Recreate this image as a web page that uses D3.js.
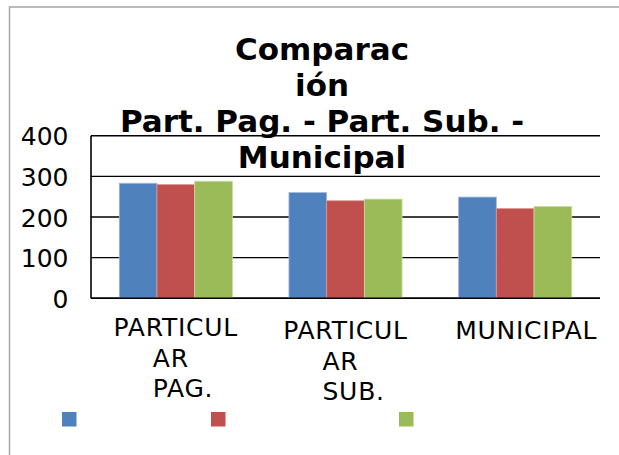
<!DOCTYPE html>
<html>
<head>
<meta charset="utf-8">
<title>Comparación</title>
<style>
  body { margin: 0; background: #fff; }
  text { font-family: "DejaVu Sans", sans-serif; fill: #000; }
  .grid line { stroke: #000; stroke-width: 1.4; }
</style>
</head>
<body>
<script src="https://d3js.org/d3.v7.min.js"></script>
<script>
  // data
  var categories = [["PARTICUL", "AR", "PAG."], ["PARTICUL", "AR", "SUB."], ["MUNICIPAL"]];
  var seriesNames = ["", "", ""];
  var serie1 = [283, 260, 249];
  var serie2 = [280, 240, 221];
  var serie3 = [288, 244, 226];
  var yTicks = [0, 100, 200, 300, 400];
  var titleLines = ["Comparac", "ión", "Part. Pag. - Part. Sub. -", "Municipal"];

  var colors = ["#4F81BD", "#C0504D", "#9BBB59"];
  var edges = ["#9fb8d9", "#dc9a98", "#c8dba6"];
  var legendX = [62, 211, 399];

  var W = 619, H = 455;
  var plot = { left: 91, right: 600, top: 135.7, bottom: 298.3 };

  var svg = d3.select("body").append("svg")
    .attr("width", W)
    .attr("height", H);

  // outer chart frame (runs off the right and bottom edge)
  svg.append("rect")
    .attr("x", 9.5).attr("y", 7)
    .attr("width", 800).attr("height", 600)
    .attr("fill", "none")
    .attr("stroke", "#a6a6a6")
    .attr("stroke-width", 1.5);

  var series = [serie1, serie2, serie3];
  var idx = categories.map(function (d, i) { return i; });

  var x0 = d3.scaleBand().domain(idx).range([plot.left, plot.right]).padding(0);
  var x1 = d3.scaleBand().domain([0, 1, 2]).range([0, x0.bandwidth()])
    .paddingInner(0).paddingOuter(0.75);
  var y = d3.scaleLinear().domain([0, 400]).range([plot.bottom, plot.top]);

  // gridlines
  svg.append("g").attr("class", "grid")
    .selectAll("line").data(yTicks).enter().append("line")
    .attr("x1", plot.left).attr("x2", plot.right)
    .attr("y1", function (d) { return y(d); })
    .attr("y2", function (d) { return y(d); });

  // y tick labels
  svg.append("g").selectAll("text").data(yTicks).enter().append("text")
    .attr("x", 68.5)
    .attr("y", function (d) { return y(d) + 1; })
    .attr("text-anchor", "end")
    .attr("dominant-baseline", "central")
    .attr("font-size", 25)
    .text(function (d) { return d; });

  // bars
  series.forEach(function (vals, s) {
    svg.append("g").selectAll("rect").data(vals).enter().append("rect")
      .attr("x", function (d, i) { return x0(i) + x1(s); })
      .attr("y", function (d) { return y(d); })
      .attr("width", x1.bandwidth())
      .attr("height", function (d) { return y(0) - y(d); })
      .attr("fill", colors[s])
      .attr("stroke", edges[s])
      .attr("stroke-width", 0.8);
  });

  // axes lines on top
  svg.append("line")
    .attr("x1", plot.left).attr("x2", plot.left)
    .attr("y1", plot.top).attr("y2", plot.bottom)
    .attr("stroke", "#000").attr("stroke-width", 1.6);
  svg.append("line")
    .attr("x1", plot.left).attr("x2", plot.right)
    .attr("y1", plot.bottom).attr("y2", plot.bottom)
    .attr("stroke", "#000").attr("stroke-width", 1.6);

  // category labels
  categories.forEach(function (lines, i) {
    var cx = x0(i) + x0.bandwidth() / 2;
    var dy = i == 0 ? 0 : 3;
    var g = svg.append("g");
    lines.forEach(function (t, k) {
      g.append("text")
        .attr("x", k == 0 ? (lines.length == 1 ? cx + 11 : cx) : cx - 23)
        .attr("y", 336 + dy + k * 30.5)
        .attr("text-anchor", k == 0 ? "middle" : "start")
        .attr("font-size", 25)
        .attr("letter-spacing", 0.75)
        .text(t);
    });
  });

  // title
  svg.append("g").selectAll("text").data(titleLines).enter().append("text")
    .attr("x", 322)
    .attr("y", function (d, i) { return 59.5 + i * 36.2; })
    .attr("text-anchor", "middle")
    .attr("font-size", 31)
    .attr("font-weight", "bold")
    .text(function (d) { return d; });

  // legend (entries have no names)
  var leg = svg.append("g").selectAll("g").data(seriesNames).enter().append("g");
  leg.append("rect")
    .attr("x", function (d, i) { return legendX[i]; })
    .attr("y", 412)
    .attr("width", 14.5).attr("height", 14.5)
    .attr("fill", function (d, i) { return colors[i]; });
  leg.append("text")
    .attr("x", function (d, i) { return legendX[i] + 20; })
    .attr("y", 426)
    .attr("font-size", 24)
    .text(function (d) { return d; });
</script>
</body>
</html>
